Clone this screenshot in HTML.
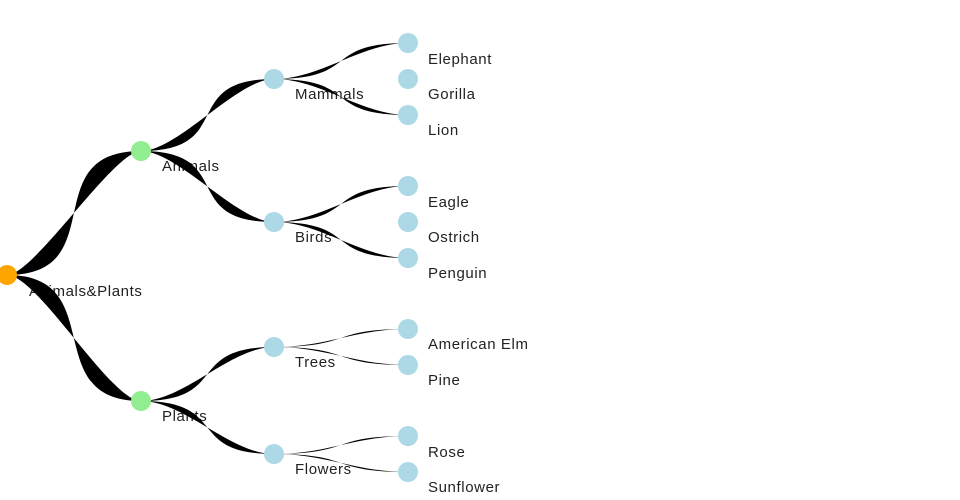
<!DOCTYPE html>
<html><head><style>body{margin:0;background:#fff}svg{display:block}text{font-family:"Liberation Sans",sans-serif;font-size:15px;fill:#222;letter-spacing:0.6px}</style></head>
<body>
<svg id="s" width="960" height="500" xmlns="http://www.w3.org/2000/svg">
<g id="t">
<text x="29" y="296">Animals&amp;Plants</text>
<text x="162" y="171">Animals</text>
<text x="162" y="421">Plants</text>
<text x="295" y="99">Mammals</text>
<text x="295" y="242">Birds</text>
<text x="295" y="367">Trees</text>
<text x="295" y="474">Flowers</text>
<text x="428" y="64">Elephant</text>
<text x="428" y="99">Gorilla</text>
<text x="428" y="135">Lion</text>
<text x="428" y="207">Eagle</text>
<text x="428" y="242">Ostrich</text>
<text x="428" y="278">Penguin</text>
<text x="428" y="349">American Elm</text>
<text x="428" y="385">Pine</text>
<text x="428" y="457">Rose</text>
<text x="428" y="492">Sunflower</text>
</g>
<g id="l" fill="#000"></g>
<g id="n"></g>
</svg>
<script>
var L=document.getElementById('l'),N=document.getElementById('n'),ns='http://www.w3.org/2000/svg';
function link(x0,y0,x1,y1,w){var dx=x1-x0,k1=dx*0.5+w*3.3,k2=dx*0.5-w*3.3;var p=document.createElementNS(ns,'path');
p.setAttribute('d','M'+x0+','+y0+'C'+(x0+k1)+','+y0+' '+(x1-k1)+','+y1+' '+x1+','+y1+'C'+(x1-k2)+','+y1+' '+(x0+k2)+','+y0+' '+x0+','+y0+'Z');L.appendChild(p);}
function node(x,y,c){var e=document.createElementNS(ns,'circle');e.setAttribute('cx',x);e.setAttribute('cy',y);e.setAttribute('r',10);e.setAttribute('fill',c);N.appendChild(e);}
var R=[7,275],A=[141,151],P=[141,401],M=[274,79],B=[274,222],T=[274,347],F=[274,454];
link(R[0],R[1],A[0],A[1],12);link(R[0],R[1],P[0],P[1],11);
link(A[0],A[1],M[0],M[1],9);link(A[0],A[1],B[0],B[1],9);
link(P[0],P[1],T[0],T[1],7);link(P[0],P[1],F[0],F[1],7);
[[M,[43,79,115]],[B,[186,222,258]],[T,[329,365]],[F,[436,472]]].forEach(function(g){g[1].forEach(function(y){if(!(g[0]==M&&y==79)&&!(g[0]==B&&y==222))link(g[0][0],g[0][1],408,y,g[0]==M||g[0]==B?6:4);node(408,y,'#add8e6');});});
node(R[0],R[1],'#ffa500');node(A[0],A[1],'#90ee90');node(P[0],P[1],'#90ee90');
[M,B,T,F].forEach(function(p){node(p[0],p[1],'#add8e6');});
</script>
</body></html>
